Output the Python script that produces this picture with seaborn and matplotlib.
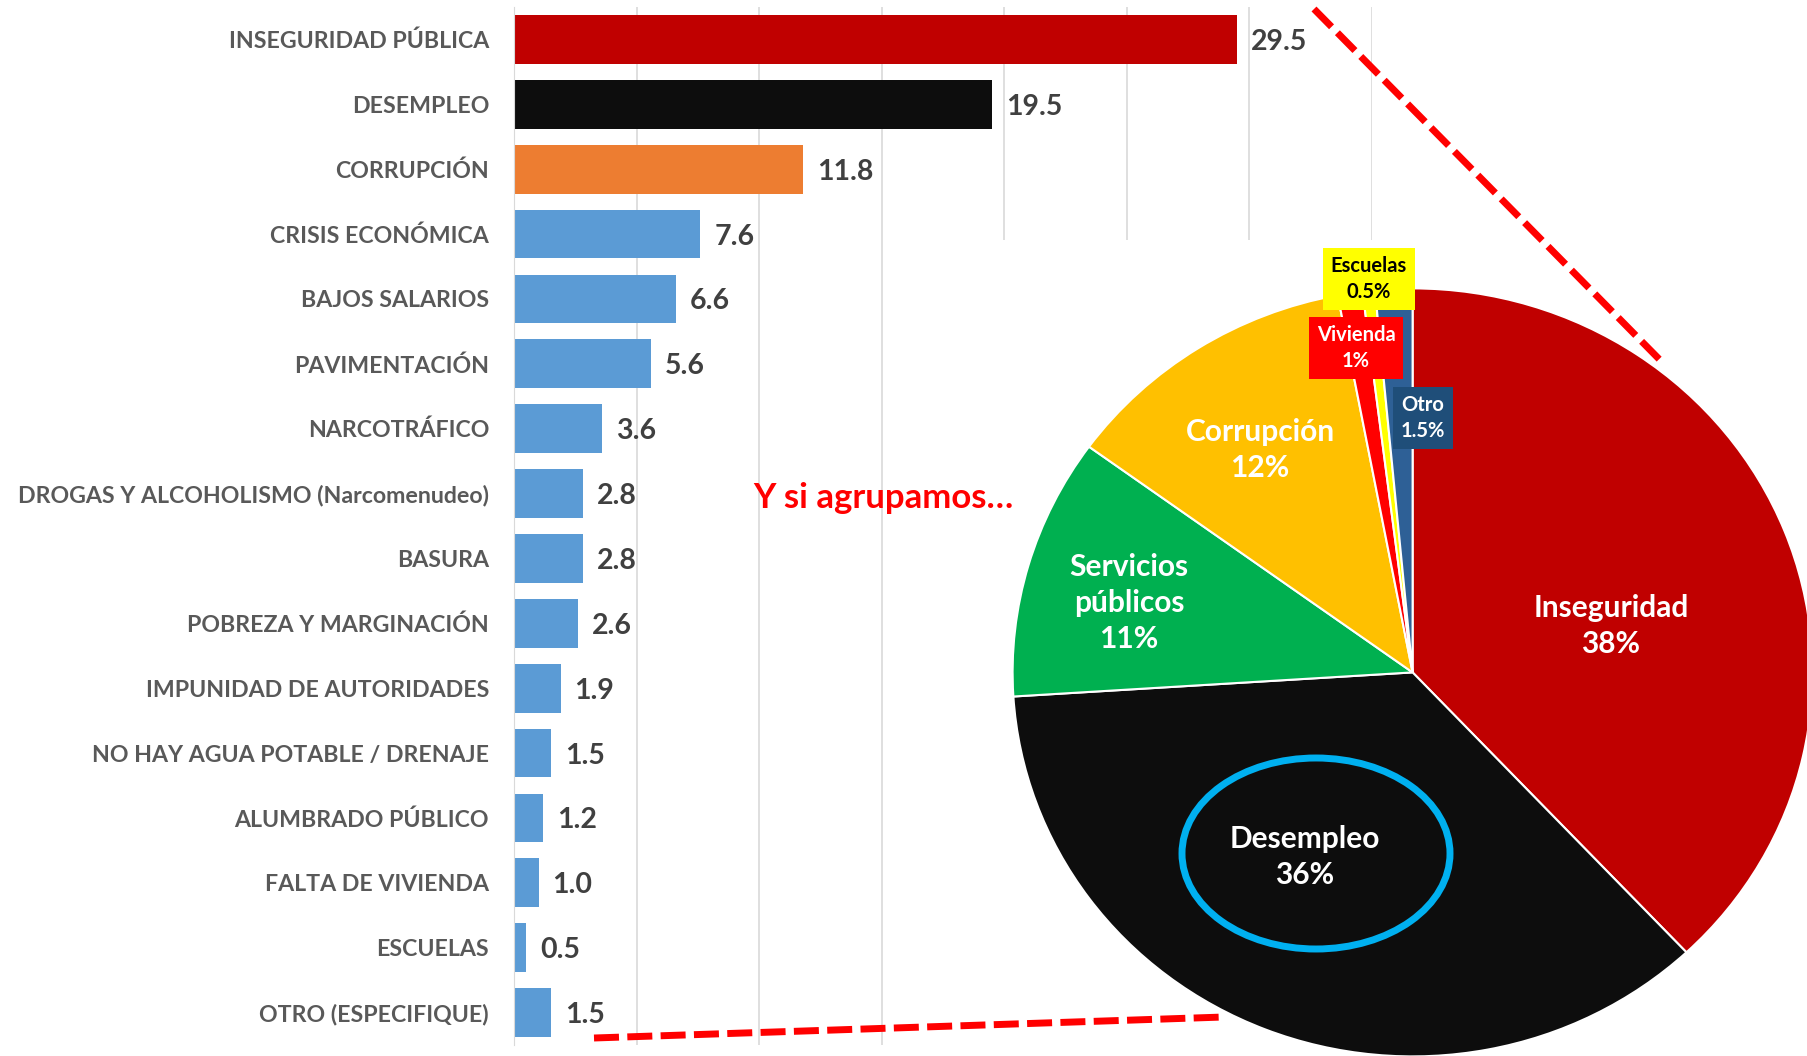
import matplotlib
matplotlib.use('Agg')
import matplotlib.pyplot as plt
import seaborn as sns
from matplotlib.lines import Line2D
from matplotlib.patches import Ellipse

categories = ['INSEGURIDAD PÚBLICA', 'DESEMPLEO', 'CORRUPCIÓN', 'CRISIS ECONÓMICA',
              'BAJOS SALARIOS', 'PAVIMENTACIÓN', 'NARCOTRÁFICO',
              'DROGAS Y ALCOHOLISMO (Narcomenudeo)', 'BASURA', 'POBREZA Y MARGINACIÓN',
              'IMPUNIDAD DE AUTORIDADES', 'NO HAY AGUA POTABLE / DRENAJE',
              'ALUMBRADO PÚBLICO', 'FALTA DE VIVIENDA', 'ESCUELAS', 'OTRO (ESPECIFIQUE)']
values = [29.5, 19.5, 11.8, 7.6, 6.6, 5.6, 3.6, 2.8, 2.8, 2.6, 1.9, 1.5, 1.2, 1.0, 0.5, 1.5]
bar_colors = ['#C00000', '#0D0D0D', '#ED7D31'] + ['#5B9BD5'] * 13

pie_labels = ['Inseguridad', 'Desempleo', 'Servicios\npúblicos', 'Corrupción',
              'Vivienda', 'Escuelas', 'Otro']
pie_values = [38, 36, 11, 12, 1, 0.5, 1.5]
pie_colors = ['#C00000', '#0D0D0D', '#00B050', '#FFC000', '#FF0000', '#FFFF00', '#2E6096']

sns.set_style('white')
plt.rcParams['font.family'] = ['Lato', 'DejaVu Sans']

W, H = 1808, 1056
fig = plt.figure(figsize=(W / 100, H / 100), dpi=100)

# --- bar chart ---
ax = fig.add_axes([514 / W, 11 / H, (1372 - 514) / W, 1038 / H])
sns.barplot(x=values, y=categories, hue=categories, palette=bar_colors, legend=False,
            orient='h', width=0.75, saturation=1, linewidth=0, ax=ax)
ax.set_xlim(0, 35)
ax.set_ylim(15.5, -0.5)
ax.set_xticks(range(0, 36, 5))
ax.set_xticklabels([])
ax.xaxis.grid(True, color='#D9D9D9', lw=1.2)
ax.set_axisbelow(True)
ax.tick_params(axis='both', length=0)
ax.tick_params(axis='y', pad=18)
ax.set_yticks(range(len(categories)))
ax.set_yticklabels(categories, fontsize=16.7, fontweight='bold', color='#595959')
ax.set_xlabel('')
ax.set_ylabel('')
for side in ['top', 'right', 'bottom']:
    ax.spines[side].set_visible(False)
ax.spines['left'].set_color('#D9D9D9')
for cont in ax.containers:
    labels = ax.bar_label(cont, fmt='%.1f', padding=10, fontsize=20.5, fontweight='bold',
                          color='#404040')
    for t in labels:
        t.set_verticalalignment('center_baseline')

# --- pie ---
px_left, px_top = 950, 240
cx, cy, rx, ry = 1412.6, 672.4, 400, 384
ax2 = fig.add_axes([px_left / W, 0, (W - px_left) / W, (H - px_top) / H])
ax2.pie(pie_values, colors=pie_colors, startangle=90, counterclock=False,
        wedgeprops=dict(edgecolor='white', linewidth=1.5))
ax2.set_aspect('auto')
ax2.set_xlim((px_left - cx) / rx, (W - cx) / rx)
ax2.set_ylim((cy - H) / ry, (cy - px_top) / ry)
ax2.set_frame_on(True)
for s in ax2.spines.values():
    s.set_visible(False)
ax2.set_facecolor('white')


def pos(X, Y):
    return (X - cx) / rx, (cy - Y) / ry


label_pos = [(1611, 626), (1305, 857), (1129, 603), (1260, 450),
             (1356, 348), (1369, 279), (1423, 418)]
boxes = [None, None, None, None, ('#FF0000', 'white'), ('#FFFF00', 'black'),
         ('#1F4E79', 'white')]
for lab, val, p, box in zip(pie_labels, pie_values, label_pos, boxes):
    x, y = pos(*p)
    txt = f'{lab}\n{val:g}%'
    if box is None:
        ax2.text(x, y, txt, ha='center', va='center', fontsize=21.5, fontweight='bold',
                 color='white', linespacing=1.35, clip_on=False)
    else:
        ax2.text(x, y, txt, ha='center', va='center', fontsize=14.5, fontweight='bold',
                 color=box[1], linespacing=1.4, clip_on=False, zorder=6,
                 bbox=dict(boxstyle='square,pad=0.38', facecolor=box[0], edgecolor='none'))

ex, ey = pos(1316, 853.5)
ax2.add_patch(Ellipse((ex, ey), 268 / rx, 191 / ry, fill=False, edgecolor='#00B0F0',
                      linewidth=5, zorder=5))

# --- annotations ---
fig.text(753 / W, 1 - 498 / H, 'Y si agrupamos…', color='#FF0000', fontsize=25,
         fontweight='bold', ha='left', va='center', zorder=6)
for (x0, y0), (x1, y1) in [((1314, 9), (1660, 360)), ((594, 1038), (1224, 1017))]:
    fig.add_artist(Line2D([x0 / W, x1 / W], [1 - y0 / H, 1 - y1 / H], color='#FF0000',
                          lw=5, dashes=(3.6, 1.2), transform=fig.transFigure, zorder=7))

fig.savefig('out.png', dpi=100)
